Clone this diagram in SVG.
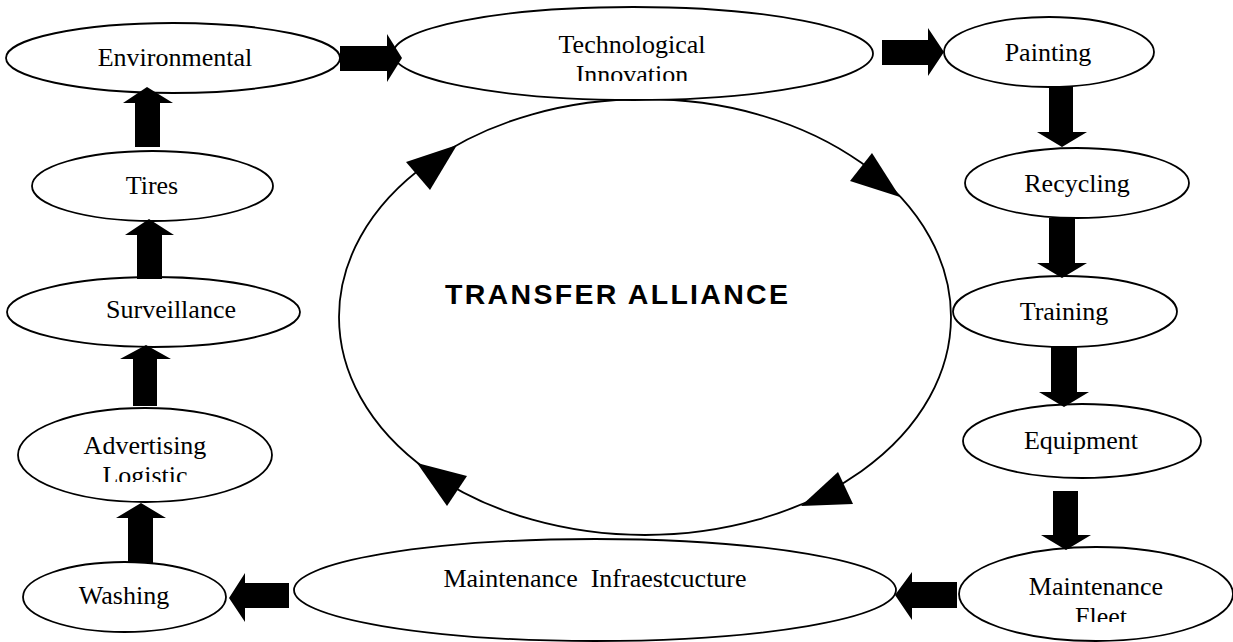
<svg xmlns="http://www.w3.org/2000/svg" width="1233" height="642" viewBox="0 0 1233 642">
<style>
.node ellipse{fill:#fff;stroke:#000;stroke-width:1.8}
.lbl{font-family:"Liberation Serif","Times New Roman",serif;font-size:26px;fill:#000;text-anchor:middle}
.blk{fill:#000;stroke:none}
.cyc{fill:none;stroke:#000;stroke-width:1.8}
.title{font-family:"Liberation Sans",Arial,sans-serif;font-size:28.5px;font-weight:bold;fill:#000}
</style>
<defs>
<clipPath id="clipTech"><rect x="393" y="0" width="480" height="81"/></clipPath>
<clipPath id="clipAdv"><rect x="0" y="400" width="280" height="82"/></clipPath>
<clipPath id="clipFleet"><rect x="950" y="540" width="283" height="82"/></clipPath>
</defs>
<rect width="1233" height="642" fill="#fff"/>
<g id="transfer-alliance">
<ellipse class="cyc" cx="645" cy="317" rx="306" ry="218"/>
<text class="title" x="445" y="304" textLength="343" lengthAdjust="spacing">TRANSFER ALLIANCE</text>
</g>
<g id="environmental" class="node"><ellipse cx="173" cy="58" rx="167" ry="35"/><text class="lbl" x="175" y="66">Environmental</text></g>
<g id="technological-innovation" class="node"><ellipse cx="633" cy="53.5" rx="240" ry="46.5"/><g clip-path="url(#clipTech)"><text class="lbl" x="632" y="53">Technological</text><text class="lbl" x="632" y="83">Innovation</text></g></g>
<g id="painting" class="node"><ellipse cx="1049" cy="52" rx="105" ry="35"/><text class="lbl" x="1048" y="61">Painting</text></g>
<g id="recycling" class="node"><ellipse cx="1077" cy="183" rx="112" ry="35"/><text class="lbl" x="1077" y="192">Recycling</text></g>
<g id="training" class="node"><ellipse cx="1065" cy="311.5" rx="112" ry="35.5"/><text class="lbl" x="1064" y="320">Training</text></g>
<g id="equipment" class="node"><ellipse cx="1082" cy="441" rx="119" ry="37"/><text class="lbl" x="1081" y="449">Equipment</text></g>
<g id="maintenance-fleet" class="node"><ellipse cx="1096" cy="594" rx="137" ry="47"/><g clip-path="url(#clipFleet)"><text class="lbl" x="1096" y="595">Maintenance</text><text class="lbl" x="1101" y="625">Fleet</text></g></g>
<g id="maintenance-infraestructure" class="node"><ellipse cx="595" cy="590" rx="301" ry="51"/><text class="lbl" x="595" y="587" style="white-space:pre">Maintenance  Infraestcucture</text></g>
<g id="washing" class="node"><ellipse cx="124.5" cy="597" rx="101.5" ry="35"/><text class="lbl" x="124" y="604">Washing</text></g>
<g id="advertising-logistic" class="node"><ellipse cx="145" cy="455" rx="127" ry="47"/><g clip-path="url(#clipAdv)"><text class="lbl" x="145" y="454">Advertising</text><text class="lbl" x="145" y="484">Logistic</text></g></g>
<g id="surveillance" class="node"><ellipse cx="153.5" cy="312" rx="146.5" ry="35"/><text class="lbl" x="171" y="318">Surveillance</text></g>
<g id="tires" class="node"><ellipse cx="152.5" cy="186" rx="120.5" ry="35"/><text class="lbl" x="152" y="194">Tires</text></g>
<g id="connectors">
<polygon class="blk" points="340,46 387,46 387,34 402,58 387,82 387,71 340,71"/>
<polygon class="blk" points="882,40 928,40 928,28 944,52 928,76 928,65 882,65"/>
<polygon class="blk" points="1049,87 1073,87 1073,132 1087,132 1062,147 1037,132 1049,132"/>
<polygon class="blk" points="1049,218 1075,218 1075,263 1087,263 1062,278 1037,263 1049,263"/>
<polygon class="blk" points="1051,347 1077,347 1077,392 1089,392 1064,407 1039,392 1051,392"/>
<polygon class="blk" points="1053,491 1078,491 1078,535 1091,535 1066,550 1041,535 1053,535"/>
<polygon class="blk" points="957,582 957,608 912,608 912,620 895,595 912,572 912,582"/>
<polygon class="blk" points="289,583 289,608 245,608 245,622 229,598 245,573 245,583"/>
<polygon class="blk" points="128,563 153,563 153,518 166,518 141,503 116,518 128,518"/>
<polygon class="blk" points="133,406 157,406 157,359 171,359 146,345 120,359 133,359"/>
<polygon class="blk" points="137,279 162,279 162,235 174,235 149,219 125,235 137,235"/>
<polygon class="blk" points="135,147 160,147 160,103 173,103 147,87 123,103 135,103"/>
<polygon class="blk" points="406,162 457,145 430,190"/>
<polygon class="blk" points="872,153 900,197 850,181"/>
<polygon class="blk" points="838,472 853,504 801,506"/>
<polygon class="blk" points="417,463 467,476 447,506"/>
</g>
</svg>
